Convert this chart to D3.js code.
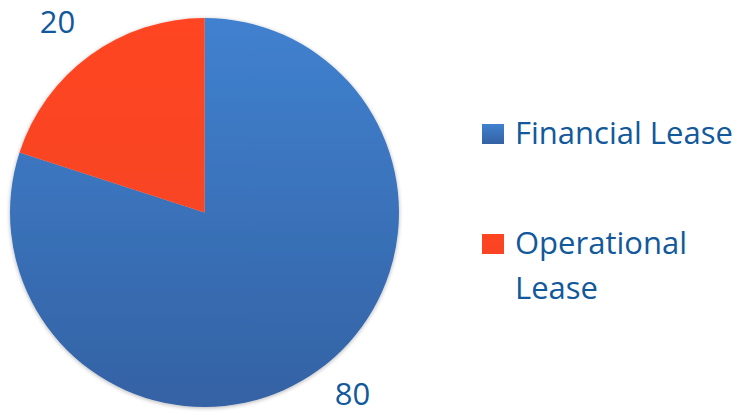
<!DOCTYPE html>
<html>
<head>
<meta charset="utf-8">
<script src="https://cdn.jsdelivr.net/npm/d3@7"></script>
<style>
  body { margin: 0; background: #fff; }
  text { font-family: "Open Sans", Lato, sans-serif; fill: #12599c; }
</style>
</head>
<body>
<div id="container"></div>
<script>
/** DATA */
const categories = ["Financial Lease", "Operational Lease"];
const values = [80, 20];
const legendLines = [["Financial Lease"], ["Operational", "Lease"]];

/** CONSTANTS */
const width = 742, height = 415;
const cx = 204.5, cy = 212.5, radius = 194.5;

const svg = d3.select("#container")
  .append("svg")
  .attr("width", width)
  .attr("height", height);

const defs = svg.append("defs");

const blueGrad = defs.append("linearGradient")
  .attr("id", "blueGrad")
  .attr("x1", 0).attr("y1", 0).attr("x2", 0).attr("y2", 1);
blueGrad.append("stop").attr("offset", "0%").attr("stop-color", "#4081cf");
blueGrad.append("stop").attr("offset", "100%").attr("stop-color", "#3462a4");

const redGrad = defs.append("linearGradient")
  .attr("id", "redGrad")
  .attr("x1", 0).attr("y1", 0).attr("x2", 0).attr("y2", 1);
redGrad.append("stop").attr("offset", "0%").attr("stop-color", "#ff4521");
redGrad.append("stop").attr("offset", "100%").attr("stop-color", "#f84425");

const shadow = defs.append("filter").attr("id", "shadow")
  .attr("x", "-10%").attr("y", "-10%").attr("width", "120%").attr("height", "120%");
shadow.append("feGaussianBlur").attr("in", "SourceAlpha").attr("stdDeviation", 2);
shadow.append("feOffset").attr("dx", 0).attr("dy", 1).attr("result", "off");
shadow.append("feComponentTransfer").append("feFuncA").attr("type", "linear").attr("slope", 0.3);
const merge = shadow.append("feMerge");
merge.append("feMergeNode");
merge.append("feMergeNode").attr("in", "SourceGraphic");

const colors = d3.scaleOrdinal()
  .domain(categories)
  .range(["url(#blueGrad)", "url(#redGrad)"]);

const pie = d3.pie().sort(null).value(d => d.value);
const arcs = pie(categories.map((c, i) => ({ name: c, value: values[i] })));

const arc = d3.arc().innerRadius(0).outerRadius(radius);

const g = svg.append("g").attr("transform", `translate(${cx},${cy})`);

g.append("g").attr("filter", "url(#shadow)")
  .selectAll("path")
  .data(arcs)
  .join("path")
  .attr("d", arc)
  .attr("fill", d => colors(d.data.name));

// data labels outside the pie
const labelPos = [[148, 192], [-147, -179.5]];
g.selectAll("text.val")
  .data(arcs)
  .join("text")
  .attr("class", "val")
  .attr("x", (d, i) => labelPos[i][0])
  .attr("y", (d, i) => labelPos[i][1])
  .attr("text-anchor", "middle")
  .style("font-size", "31px")
  .text(d => d.data.value);

// legend
const legendY = [134, 244];
const legend = svg.append("g");
const items = legend.selectAll("g.item")
  .data(categories)
  .join("g")
  .attr("class", "item")
  .attr("transform", (d, i) => `translate(482,${legendY[i]})`);

items.append("rect")
  .attr("x", 0).attr("y", -10)
  .attr("width", 22).attr("height", 20)
  .attr("fill", d => colors(d));

items.each(function(d, i) {
  const t = d3.select(this).append("text")
    .attr("x", 33)
    .attr("y", 10)
    .style("font-size", "31px");
  legendLines[i].forEach((line, j) => {
    t.append("tspan").attr("x", 33).attr("dy", j === 0 ? 0 : 45).text(line);
  });
});
</script>
</body>
</html>
